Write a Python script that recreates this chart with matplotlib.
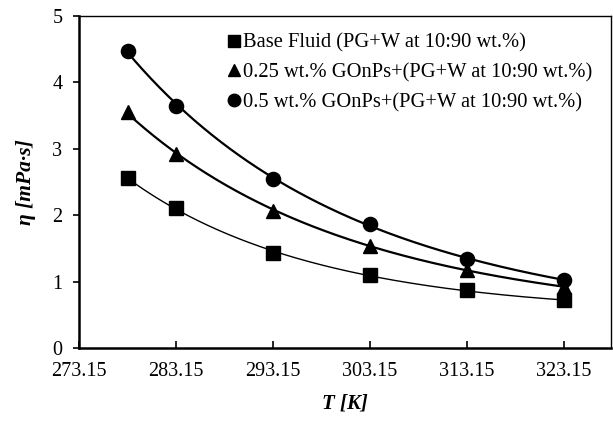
import numpy as np
import matplotlib
matplotlib.use("Agg")
import matplotlib.pyplot as plt
from matplotlib.lines import Line2D

T = [278.15, 283.15, 293.15, 303.15, 313.15, 323.15]
base = [2.56, 2.11, 1.43, 1.10, 0.87, 0.72]
gon025 = [3.55, 2.93, 2.07, 1.54, 1.18, 0.92]
gon05 = [4.48, 3.65, 2.55, 1.87, 1.34, 1.03]
labels = ["Base Fluid (PG+W at 10:90 wt.%)",
          "0.25 wt.% GOnPs+(PG+W at 10:90 wt.%)",
          "0.5 wt.% GOnPs+(PG+W at 10:90 wt.%)"]
xticks = [273.15, 283.15, 293.15, 303.15, 313.15, 323.15]

plt.rcParams['font.family'] = ['Liberation Serif', 'DejaVu Serif']

fig = plt.figure(figsize=(6.13, 4.21), dpi=100)
ax = fig.add_axes([0.129, 0.173, 0.868, 0.789])

series = [(base, 's', 10.2, 1.0), (gon025, '^', 10.2, 1.6), (gon05, 'o', 10.2, 1.6)]
handles = []
Tx = np.array(T)
xs = np.linspace(T[0], T[-1], 300)
for ys, m, ms, lw in series:
    c = np.polyfit(Tx, np.log(ys), 2)
    ax.plot(xs, np.exp(np.polyval(c, xs)), color='black', lw=lw, zorder=2)
    ax.plot(T, ys, linestyle='none', marker=m, markersize=ms, color='black', zorder=3)
    handles.append(Line2D([], [], linestyle='none', marker=m, markersize=9, color='black'))

ax.set_xlim(273.15, 328.0)
ax.set_ylim(0, 5)
ax.set_xticks(xticks)
ax.set_xticklabels([f"{v:.2f}" for v in xticks])
ax.set_yticks([0, 1, 2, 3, 4, 5])
ax.tick_params(axis='x', direction='in', length=5, width=1.2, labelsize=14.5, pad=10)
ax.tick_params(axis='y', direction='out', length=4, width=1.2, labelsize=14.5, pad=8)
for s in ['left', 'bottom']:
    ax.spines[s].set_linewidth(1.8)
for s in ['top', 'right']:
    ax.spines[s].set_linewidth(1.0)

ax.set_xlabel("T [K]", fontsize=15, fontweight='bold', fontstyle='italic', labelpad=9)
ax.set_ylabel("η [mPa·s]", fontsize=15.5, fontweight='bold', fontstyle='italic', labelpad=12)

ax.legend(handles, labels, loc='upper right', bbox_to_anchor=(0.997, 1.0), frameon=False,
          fontsize=14.8, handlelength=0.6, handletextpad=0.15, labelspacing=0.5,
          borderaxespad=0.45)

fig.savefig("out.png", dpi=100)
